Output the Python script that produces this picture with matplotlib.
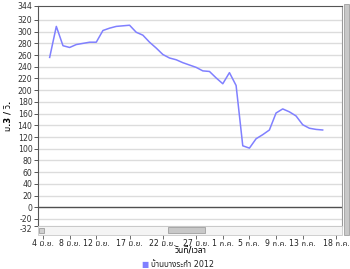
import matplotlib
matplotlib.use('Agg')
import matplotlib.pyplot as plt
import matplotlib.transforms as mtrans
from matplotlib import font_manager as fm
from matplotlib.patches import Rectangle
import pandas as pd

# หา font ที่มีตัวอักษรไทย
names = {f.name for f in fm.fontManager.ttflist}
thai_font = None
for n in ['Noto Sans Thai', 'Noto Sans Thai UI', 'Sarabun', 'Tahoma', 'Loma', 'Garuda', 'Kanit', 'Prompt', 'Bai Jamjuree']:
    if n in names:
        thai_font = n
        break
if thai_font is None:
    from fontTools.ttLib import TTFont
    for f in fm.fontManager.ttflist:
        try:
            if 0x0E21 in TTFont(f.fname, fontNumber=0, lazy=True).getBestCmap():
                thai_font = f.name
                break
        except Exception:
            pass
plt.rcParams['font.family'] = ['DejaVu Sans', thai_font or 'DejaVu Sans']

# ข้อมูล (อ่านจากกราฟ)
วันที่ = pd.date_range('2012-06-05', '2012-07-16', freq='D')
ปริมาณน้ำ = [256, 309, 276, 273, 278, 280, 282, 282, 302, 306,
             309, 310, 311, 299, 294, 282, 272, 261, 255, 252,
             247, 243, 239, 233, 232, 221, 211, 230, 208, 105,
             101, 117, 124, 132, 161, 168, 163, 156, 141, 135,
             133, 132]
tick_dates = ['2012-06-04', '2012-06-08', '2012-06-12', '2012-06-17', '2012-06-22',
              '2012-06-27', '2012-07-01', '2012-07-05', '2012-07-09', '2012-07-13', '2012-07-18']
tick_labels = ['4 มิ.ย.', '8 มิ.ย.', '12 มิ.ย.', '17 มิ.ย.', '22 มิ.ย.', '27 มิ.ย.',
               '1 ก.ค.', '5 ก.ค.', '9 ก.ค.', '13 ก.ค.', '18 ก.ค.']
y_ticks = [344, 320, 300, 280, 260, 240, 220, 200, 180, 160, 140, 120, 100,
           80, 60, 40, 20, 0, -20, -32]
ชื่อสถานี = 'บ้านบางระกำ 2012'

fig = plt.figure(figsize=(3.5, 2.69), dpi=100)
ax = fig.add_axes([0.1086, 0.160, 0.868, 0.818])

for y in y_ticks[1:-1]:
    if y != 0:
        ax.axhline(y, color='#dcdcdc', lw=1.0, zorder=1)
ax.axhline(0, color='#505050', lw=1.0, zorder=2)

ax.plot(วันที่, ปริมาณน้ำ, color='#8080ff', lw=1.1, zorder=3)

ax.set_ylim(-32, 344)
ax.set_xlim(pd.Timestamp('2012-06-03 06:00'), pd.Timestamp('2012-07-18 21:00'))
ax.set_yticks(y_ticks)
ax.set_yticklabels([str(v) for v in y_ticks], fontsize=5.6, color='#333333')
ax.set_xticks(pd.to_datetime(tick_dates))
ax.set_xticklabels(tick_labels, fontsize=5.6, color='#222222')
ax.tick_params(axis='y', length=3, width=0.7, color='#555555', pad=1)
ax.tick_params(axis='x', length=9.5, width=0.6, color='#555555', pad=0)

# เลื่อน -32 ลงเล็กน้อยไม่ให้ทับ -20
lbl = ax.get_yticklabels()[-1]
lbl.set_transform(lbl.get_transform() + mtrans.ScaledTranslation(0, -1.5 / 72, fig.dpi_scale_trans))

for s in ['left', 'top']:
    ax.spines[s].set_color('#555555')
ax.spines['right'].set_color('#999999')
ax.spines['bottom'].set_color('#aaaaaa')

# แถบเลื่อน (วาดทับขีด tick)
for r in [Rectangle((0.1086, 0.128), 0.868, 0.032, facecolor='#f4f4f4', edgecolor='#c8c8c8', lw=0.6),
          Rectangle((0.48, 0.133), 0.106, 0.022, facecolor='#c8c8c8', edgecolor='#a0a0a0', lw=0.6),
          Rectangle((0.112, 0.134), 0.014, 0.020, facecolor='#d0d0d0', edgecolor='#909090', lw=0.5),
          Rectangle((0.982, 0.128), 0.016, 0.857, facecolor='#c8c8c8', edgecolor='#a0a0a0', lw=0.6)]:
    r.set_transform(fig.transFigure)
    r.set_clip_on(False)
    r.set_zorder(5)
    ax.add_artist(r)

fig.text(0.545, 0.066, 'วันที่/เวลา', fontsize=6, fontweight='bold', ha='center', va='center')
ax.set_ylabel('ม.3 / วิ.', fontsize=6, fontweight='bold', labelpad=4)

# คำอธิบาย
fig.text(0.415, 0.018, '\u25a0', color='#8080ff', fontsize=5.5, va='center', ha='center')
fig.text(0.432, 0.018, ชื่อสถานี, fontsize=5.8, va='center', ha='left', color='#222222')

fig.savefig('out.png')
